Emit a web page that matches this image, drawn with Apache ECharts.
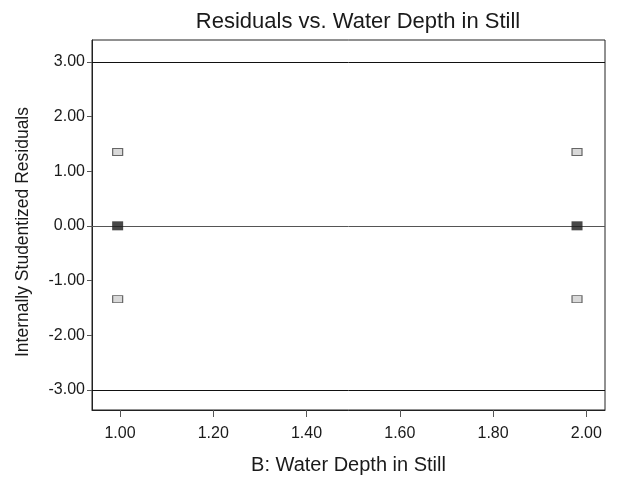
<!DOCTYPE html>
<html>
<head>
<meta charset="utf-8">
<script src="https://cdn.jsdelivr.net/npm/echarts@6/dist/echarts.min.js"></script>
<style>
  html, body { margin: 0; padding: 0; background: #fff; }
  #chart { width: 620px; height: 477px; }
</style>
</head>
<body>
<div id="chart"></div>
<script>
// Design points: water depth levels and studentized residuals at each
const depthLevels = [0.995, 1.98];
const residUpper = [1.35, 1.35];
const residCenter = [0, 0];
const residLower = [-1.34, -1.34];

// Axis tick values
const xTicks = [1.0, 1.2, 1.4, 1.6, 1.8, 2.0];
const yTicks = [-3, -2, -1, 0, 1, 2, 3];

// Reference lines drawn across the plot
const limitLines = [3, -3];
const centerLine = 0;

const FONT = '"Liberation Sans Narrow", "Liberation Sans", Arial, sans-serif';

const chart = echarts.init(document.getElementById('chart'));

const pairs = (xs, ys) => xs.map((x, i) => [x, ys[i]]);

chart.setOption({
  animation: false,
  backgroundColor: '#fff',
  title: {
    text: 'Residuals vs. Water Depth in Still',
    left: 353,
    top: 6,
    textAlign: 'center',
    textStyle: { fontFamily: FONT, fontSize: 22, fontWeight: 'normal', color: '#1a1a1a' }
  },
  grid: {
    left: 92, right: 15, top: 40, bottom: 67,
    outerBoundsMode: 'none',
    containLabel: false,
    show: true, borderColor: '#222', borderWidth: 1, backgroundColor: 'transparent'
  },
  xAxis: {
    type: 'value',
    min: 0.94, max: 2.04,
    name: 'B: Water Depth in Still',
    nameLocation: 'middle',
    nameGap: 45,
    nameTextStyle: { fontFamily: FONT, fontSize: 20, color: '#1a1a1a' },
    axisLine: { show: true, onZero: false, lineStyle: { color: '#222', width: 1 } },
    axisTick: { show: true, customValues: xTicks, length: 7, lineStyle: { color: '#555' } },
    axisLabel: {
      customValues: xTicks, margin: 16,
      fontFamily: FONT, fontSize: 16, color: '#1a1a1a',
      formatter: v => v.toFixed(2)
    },
    splitLine: { show: false }
  },
  yAxis: {
    type: 'value',
    min: -3.37, max: 3.40,
    name: 'Internally Studentized Residuals',
    nameLocation: 'middle',
    nameGap: 60,
    nameRotate: 90,
    nameTextStyle: { fontFamily: FONT, fontSize: 17.5, color: '#1a1a1a', padding: [0, 14, 0, 0] },
    axisLine: { show: true, onZero: false, lineStyle: { color: '#222', width: 1 } },
    axisTick: { show: true, customValues: yTicks, length: 5, lineStyle: { color: '#555' } },
    axisLabel: {
      customValues: yTicks, margin: 7,
      fontFamily: FONT, fontSize: 16, color: '#1a1a1a',
      formatter: v => v.toFixed(2)
    },
    splitLine: { show: false }
  },
  series: [
    {
      type: 'scatter',
      name: 'upper',
      data: pairs(depthLevels, residUpper),
      symbol: 'rect',
      symbolSize: [10, 7],
      itemStyle: { color: '#cfcfcf', borderColor: '#444', borderWidth: 1 },
      z: 5
    },
    {
      type: 'scatter',
      name: 'lower',
      data: pairs(depthLevels, residLower),
      symbol: 'rect',
      symbolSize: [10, 7],
      itemStyle: { color: '#cfcfcf', borderColor: '#444', borderWidth: 1 },
      z: 5
    },
    {
      type: 'scatter',
      name: 'center',
      data: pairs(depthLevels, residCenter),
      symbol: 'rect',
      symbolSize: [11, 9],
      itemStyle: { color: '#1a1a1a' },
      z: 6,
      markLine: {
        silent: true,
        symbol: ['none', 'none'],
        label: { show: false },
        data: [
          { yAxis: limitLines[0], lineStyle: { color: '#111', width: 1, type: 'solid' } },
          { yAxis: limitLines[1], lineStyle: { color: '#111', width: 1, type: 'solid' } },
          { yAxis: centerLine, lineStyle: { color: '#555', width: 1, type: 'solid' } }
        ]
      }
    }
  ]
});
</script>
</body>
</html>
